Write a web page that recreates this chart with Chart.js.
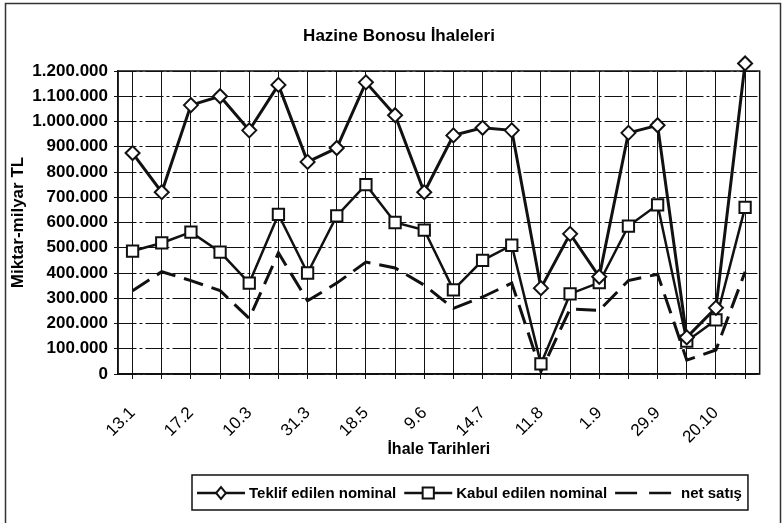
<!DOCTYPE html>
<html>
<head>
<meta charset="utf-8">
<script src="https://cdn.jsdelivr.net/npm/chart.js@4"></script>
<style>
  html, body { margin: 0; padding: 0; background: #fff; }
  #wrap { width: 784px; height: 523px; position: relative; }
</style>
</head>
<body>
<div id="wrap"><canvas id="bonoChart"></canvas></div>
<script>
// ihale tarihleri (only every other one is printed on the axis)
const categories = ['13.1', '', '17.2', '', '10.3', '', '31.3', '', '18.5', '', '9.6', '',
                    '14.7', '', '11.8', '', '1.9', '', '29.9', '', '20.10', ''];

const teklifEdilen = [875000, 720000, 1065000, 1100000, 965000, 1145000, 840000, 895000,
                      1155000, 1025000, 720000, 945000, 975000, 965000, 340000, 555000,
                      385000, 955000, 985000, 145000, 262000, 1230000];
const kabulEdilen = [487000, 519000, 562000, 483000, 360000, 632000, 400000, 626000,
                     750000, 600000, 570000, 333000, 450000, 510000, 40000, 317000,
                     362000, 586000, 670000, 130000, 214000, 660000];
const netSatis = [330000, 405000, 370000, 330000, 220000, 480000, 290000, 360000,
                  443000, 420000, 352000, 260000, 305000, 360000, 10000, 258000,
                  252000, 370000, 395000, 55000, 95000, 405000];

const seriesNames = ['Teklif edilen nominal', 'Kabul edilen nominal', 'net satış'];

const yTicks = [0, 100000, 200000, 300000, 400000, 500000, 600000,
                700000, 800000, 900000, 1000000, 1100000, 1200000];

const INK = '#111';
const FONT = '"Liberation Sans", Arial, sans-serif';

function dotted(n) {
    return String(n).replace(/\B(?=(\d{3})+(?!\d))/g, '.');
}

// title, frame, plot box and the excel-like legend
const decorations = {
    id: 'decorations',
    afterDraw(chart) {
        const ctx = chart.ctx;
        const area = chart.chartArea;
        ctx.save();

        ctx.strokeStyle = '#333';
        ctx.lineWidth = 1.5;
        ctx.strokeRect(5.5, 3.5, 775, 540);

        ctx.strokeStyle = INK;
        ctx.lineWidth = 1.5;
        ctx.strokeRect(area.left, area.top, area.right - area.left, area.bottom - area.top);

        ctx.fillStyle = '#000';
        ctx.font = 'bold 17px ' + FONT;
        ctx.textAlign = 'center';
        ctx.textBaseline = 'middle';
        ctx.fillText('Hazine Bonosu İhaleleri', 399, 36);

        // legend
        const top = 475, bottom = 510, mid = 493;
        let x = 192;
        ctx.font = 'bold 15px ' + FONT;
        ctx.textAlign = 'left';
        const startX = x;
        x += 5;
        chart.data.datasets.forEach((ds) => {
            const len = ds.borderDash ? 62 : 48;
            ctx.strokeStyle = INK;
            ctx.lineWidth = 2.5;
            ctx.setLineDash(ds.borderDash ? [22, 12] : []);
            ctx.beginPath();
            ctx.moveTo(x, mid);
            ctx.lineTo(x + len, mid);
            ctx.stroke();
            ctx.setLineDash([]);
            if (ds.pointRadius) {
                const cx = x + len / 2;
                const s = ds.pointRadius * 0.7;
                ctx.fillStyle = '#fff';
                ctx.strokeStyle = INK;
                ctx.lineWidth = 2;
                ctx.beginPath();
                if (ds.pointStyle === 'rect') {
                    ctx.rect(cx - s, mid - s, 2 * s, 2 * s);
                } else {
                    ctx.moveTo(cx, mid - s - 1); ctx.lineTo(cx + s, mid);
                    ctx.lineTo(cx, mid + s + 1); ctx.lineTo(cx - s, mid);
                    ctx.closePath();
                }
                ctx.fill();
                ctx.stroke();
            }
            x += len + 4;
            ctx.fillStyle = '#000';
            ctx.fillText(ds.label, x, mid + 1);
            x += ctx.measureText(ds.label).width + 8;
        });
        ctx.strokeStyle = INK;
        ctx.lineWidth = 1.5;
        ctx.strokeRect(startX, top, x - startX - 2, bottom - top);

        ctx.restore();
    }
};

new Chart(document.getElementById('bonoChart'), {
    type: 'line',
    data: {
        labels: categories,
        datasets: [{
            label: seriesNames[0],
            data: teklifEdilen,
            borderColor: INK,
            borderWidth: 3,
            pointStyle: 'rectRot',
            pointRadius: 7,
            pointBackgroundColor: '#fff',
            pointBorderColor: INK,
            pointBorderWidth: 2,
            clip: false,
            tension: 0
        }, {
            label: seriesNames[1],
            data: kabulEdilen,
            borderColor: INK,
            borderWidth: 2.5,
            pointStyle: 'rect',
            pointRadius: 8,
            pointBackgroundColor: '#fff',
            pointBorderColor: INK,
            pointBorderWidth: 2,
            tension: 0
        }, {
            label: seriesNames[2],
            data: netSatis,
            borderColor: INK,
            borderWidth: 3,
            borderDash: [20, 9],
            pointRadius: 0,
            tension: 0
        }]
    },
    options: {
        responsive: true,
        maintainAspectRatio: false,
        animation: false,
        layout: { padding: { top: 71, right: 21, bottom: 61, left: 0 } },
        plugins: {
            legend: { display: false },
            title: { display: false },
            tooltip: { enabled: false }
        },
        scales: {
            x: {
                offset: true,
                grid: { offset: false, color: INK, lineWidth: 1, tickLength: 5 },
                border: { color: INK, width: 1.5 },
                ticks: {
                    autoSkip: false,
                    minRotation: 45,
                    maxRotation: 45,
                    padding: 24,
                    color: '#000',
                    font: { family: FONT, size: 17 },
                    callback: (v, i) => categories[i]
                },
                title: {
                    display: true,
                    text: 'İhale Tarihleri',
                    color: '#000',
                    font: { family: FONT, size: 16, weight: 'bold' },
                    padding: { top: 0, bottom: 3 }
                },
                afterFit: (scale) => { scale.height = 88; }
            },
            y: {
                min: 0,
                max: 1200000,
                afterBuildTicks: (scale) => { scale.ticks = yTicks.map(v => ({ value: v })); },
                grid: { color: INK, lineWidth: 1, tickLength: 4 },
                border: { color: INK, width: 1.5, dash: [18, 3, 3, 3] },
                ticks: {
                    padding: 6,
                    color: '#000',
                    font: { family: FONT, size: 17, weight: 'bold' },
                    callback: (v) => dotted(v)
                },
                title: {
                    display: true,
                    text: 'Miktar-milyar TL',
                    color: '#000',
                    font: { family: FONT, size: 17, weight: 'bold' },
                    padding: { top: 8, bottom: 0 }
                },
                afterFit: (scale) => { scale.width = 118; }
            }
        }
    },
    plugins: [decorations]
});
</script>
</body>
</html>
